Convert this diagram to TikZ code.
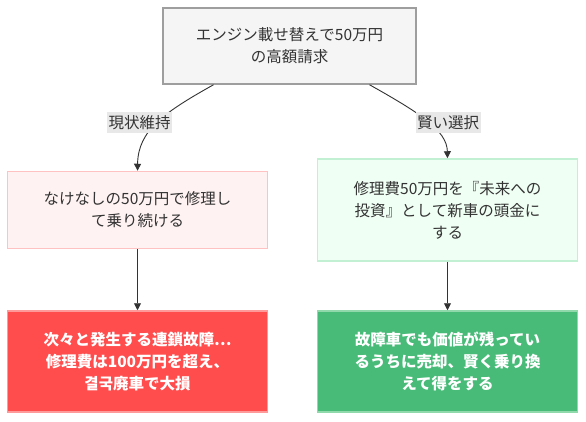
\documentclass[tikz,border=0pt]{standalone}
\usepackage{fontspec}
\setmainfont{Noto Sans CJK JP}
\usetikzlibrary{arrows.meta}
\definecolor{txt}{HTML}{333333}
\definecolor{topfill}{HTML}{F5F5F5}
\definecolor{topdraw}{HTML}{9E9E9E}
\definecolor{lmfill}{HTML}{FFF2F2}
\definecolor{lmdraw}{HTML}{FFC2C2}
\definecolor{rmfill}{HTML}{F0FFF4}
\definecolor{rmdraw}{HTML}{C2F0D2}
\definecolor{redfill}{HTML}{FF4D4D}
\definecolor{reddraw}{HTML}{FF9A9A}
\definecolor{grnfill}{HTML}{48BB78}
\definecolor{grndraw}{HTML}{8FD9AB}
\definecolor{lblfill}{HTML}{E8E8E8}
\tikzset{
  box/.style={draw, line width=1.5pt, align=center, text=txt, inner sep=0pt,
    font=\fontsize{15.5}{22}\selectfont},
  wbox/.style={box, text=white, font=\fontsize{15.5}{22}\selectfont\bfseries},
  elabel/.style={fill=lblfill, text=txt, inner sep=1pt, minimum width=65pt, minimum height=21pt,
    font=\fontsize{15.5}{20}\selectfont},
  edge/.style={draw=txt, line width=0.9pt, -{Triangle[length=7pt,width=7pt]}}
}
\begin{document}
\begin{tikzpicture}[x=1pt,y=-1pt]
\useasboundingbox[fill=white] (0,0) rectangle (586,422);
\node[box, fill=topfill, draw=topdraw, minimum width=253pt, minimum height=76pt] (top) at (289.5,46)
  {エンジン載せ替えで50万円\\の高額請求};
\node[box, fill=lmfill, draw=lmdraw, minimum width=260pt, minimum height=77pt] (lmid) at (137.5,210)
  {なけなしの50万円で修理し\\て乗り続ける};
\node[box, fill=rmfill, draw=rmdraw, minimum width=260pt, minimum height=102pt] (rmid) at (447.5,210)
  {修理費50万円を『未来への\\投資』として新車の頭金に\\する};
\node[wbox, fill=redfill, draw=reddraw, minimum width=260pt, minimum height=101pt] (lbot) at (137.5,361.5)
  {次々と発生する連鎖故障…\\修理費は100万円を超え、\\결국廃車で大損};
\node[wbox, fill=grnfill, draw=grndraw, minimum width=260pt, minimum height=101pt] (rbot) at (447.5,361.5)
  {故障車でも価値が残ってい\\るうちに売却、賢く乗り換\\えて得をする};
% curved edges
\draw[edge] ([xshift=-76pt]top.south) .. controls (165,112) and (138,130) .. (lmid.north);
\draw[edge] ([xshift=80pt]top.south) .. controls (418,112) and (447,130) .. (rmid.north);
\node[elabel] (l1) at (139.5,122.5) {現状維持};
\node[elabel] (l2) at (448,123) {賢い選択};
\draw[edge] (lmid.south) -- (lbot.north);
\draw[edge] (rmid.south) -- (rbot.north);
\end{tikzpicture}
\end{document}
